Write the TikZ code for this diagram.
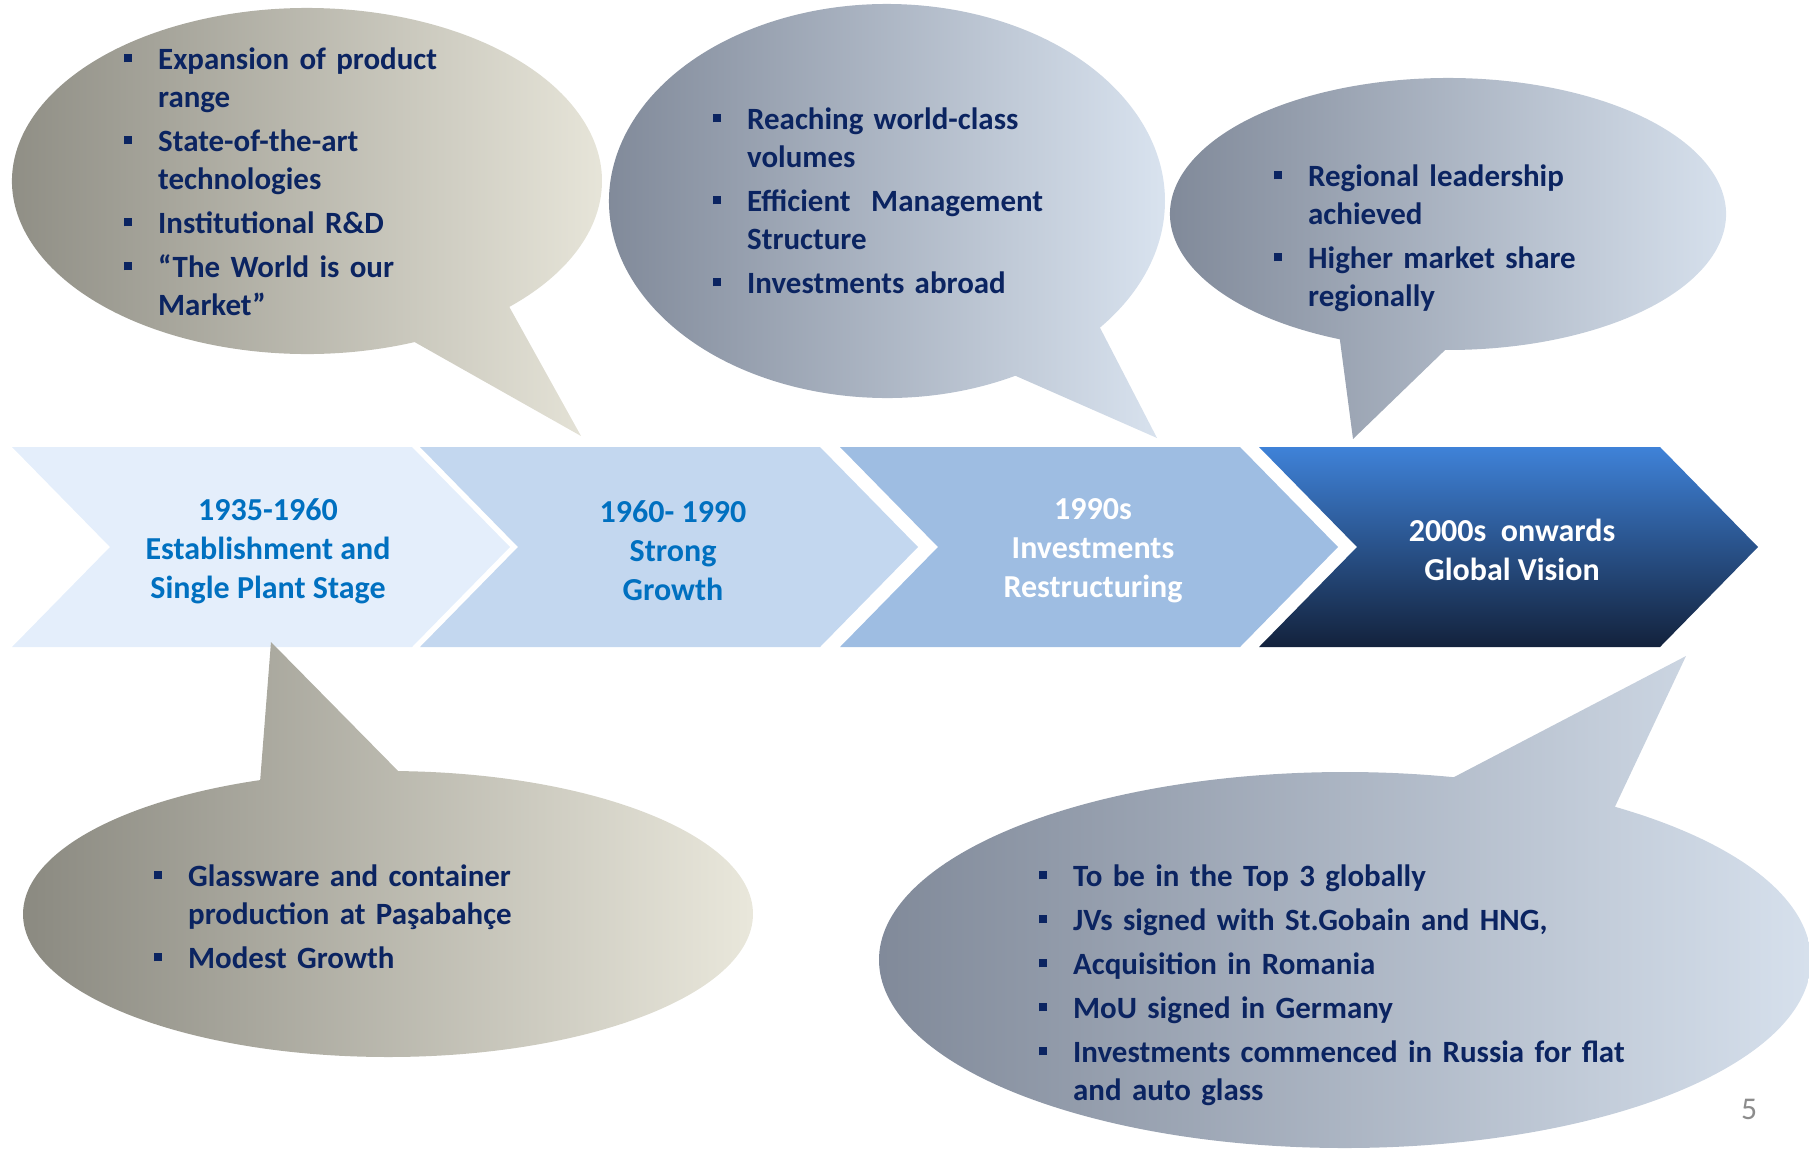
\documentclass[tikz,border=0pt]{standalone}
\usepackage{fontspec}
\setmainfont{Carlito}
\usetikzlibrary{calc}
\usepackage{xcolor}
\definecolor{navy}{HTML}{0B2461}
\definecolor{stageblue}{HTML}{0070C0}
\definecolor{chevA}{HTML}{E4EEFB}
\definecolor{chevB}{HTML}{C3D7EF}
\definecolor{chevC}{HTML}{9EBDE2}
\definecolor{chevTop}{HTML}{3F82D8}
\definecolor{chevMid}{HTML}{2B5898}
\definecolor{chevBot}{HTML}{13223C}
\definecolor{sandL}{HTML}{8A8980}
\definecolor{sandR}{HTML}{EAE8DC}
\definecolor{steelL}{HTML}{7B8494}
\definecolor{steelR}{HTML}{DCE6F2}
\definecolor{pagegray}{HTML}{8C8C8C}

\newenvironment{pointlist}{\begin{list}{\rule[1.9pt]{2.4pt}{2.4pt}}{%
		\setlength\leftmargin{9.8pt}\setlength\labelwidth{9.8pt}\setlength\labelsep{0pt}%
		\setlength\itemsep{1.7pt}\setlength\parsep{0pt}\setlength\topsep{0pt}\setlength\partopsep{0pt}%
		\renewcommand\makelabel[1]{\strut##1\hfil}}}{\end{list}}

\begin{document}
\begin{tikzpicture}[x=0.01cm, y=-0.01cm,
		stagetext/.style={font=\fontsize{9.1}{11.1}\selectfont\bfseries, align=center, inner sep=0pt},
		pointbox/.style={font=\fontsize{8.8}{10.81}\selectfont\bfseries, text=navy, text width=6cm,
			align=left, inner sep=0pt, anchor=base west},
		sandbubble/.style={left color=sandL, right color=sandR},
		steelbubble/.style={left color=steelL, right color=steelR}]
		\useasboundingbox (0,0) rectangle (1809,1148);
		\clip (0,0) rectangle (1809,1148);
		%
		% timeline chevrons
		\foreach \x/\col in {12/chevA,420/chevB,840/chevC}
			\fill[\col] (\x,447) -- ++(400,0) -- ++(98,100) -- ++(-98,100) -- ++(-400,0) -- ++(98,-100) -- cycle;
		\shade[top color=chevTop, middle color=chevMid, bottom color=chevBot]
			(1259,447) -- ++(401,0) -- ++(98,100) -- ++(-98,100) -- ++(-401,0) -- ++(98,-100) -- cycle;
		%
		\node[stagetext, text=stageblue] (stage1) at (268,551) {1935-1960\\Establishment and\\Single Plant Stage};
		\node[stagetext, text=stageblue] (stage2) at (673,551) {1960- 1990\\Strong\\Growth};
		\node[stagetext, text=white] (stage3) at (1093,551) {1990s\\Investments\\Restructuring};
		\node[stagetext, text=white] (stage4) at (1512,550) {2000s~ onwards\\Global Vision};
		%
		% speech bubbles
		\shade[sandbubble] ($(307,181)+(68.6:295 and 173)$)
			arc[start angle=68.6, end angle=406.7, x radius=295, y radius=173] -- (581,436) -- cycle;
		\shade[steelbubble] ($(887,201)+(62.5:278 and 197)$)
			arc[start angle=62.5, end angle=400, x radius=278, y radius=197] -- (1157,438) -- cycle;
		\shade[steelbubble] ($(1448,214)+(112.9:278 and 136)$)
			arc[start angle=112.9, end angle=450.6, x radius=278, y radius=136] -- (1353,439) -- cycle;
		\shade[sandbubble] ($(388,914)+(271.6:365 and 143)$)
			arc[start angle=271.6, end angle=609.5, x radius=365, y radius=143] -- (271,642) -- cycle;
		\shade[steelbubble] ($(1345,960)+(-54.6:466 and 188)$)
			arc[start angle=-54.6, end angle=283.5, x radius=466, y radius=188] -- (1686,656) -- cycle;
		%
		\node[pointbox] (notesA) at (123,31) {\begin{pointlist}
				\item Expansion of product\newline range
				\item State-of-the-art\newline technologies
				\item Institutional R\&D
				\item “The World is our\newline Market”
			\end{pointlist}};
		\node[pointbox] (notesB) at (712,91) {\begin{pointlist}
				\item Reaching world-class\newline volumes
				\item Efficient~ Management\newline Structure
				\item Investments abroad
			\end{pointlist}};
		\node[pointbox] (notesC) at (1273,148) {\begin{pointlist}
				\item Regional leadership\newline achieved
				\item Higher market share\newline regionally
			\end{pointlist}};
		\node[pointbox] (notesD) at (153,848) {\begin{pointlist}
				\item Glassware and container\newline production at Paşabahçe
				\item Modest Growth
			\end{pointlist}};
		\node[pointbox] (notesE) at (1038,848) {\begin{pointlist}
				\item To be in the Top 3 globally
				\item JVs signed with St.Gobain and HNG,
				\item Acquisition in Romania
				\item MoU signed in Germany
				\item Investments commenced in Russia for flat\newline and auto glass
			\end{pointlist}};
		%
		\node[text=pagegray, font=\fontsize{9}{10}\selectfont] (pagenum) at (1749,1109) {5};
	\end{tikzpicture}
\end{document}
